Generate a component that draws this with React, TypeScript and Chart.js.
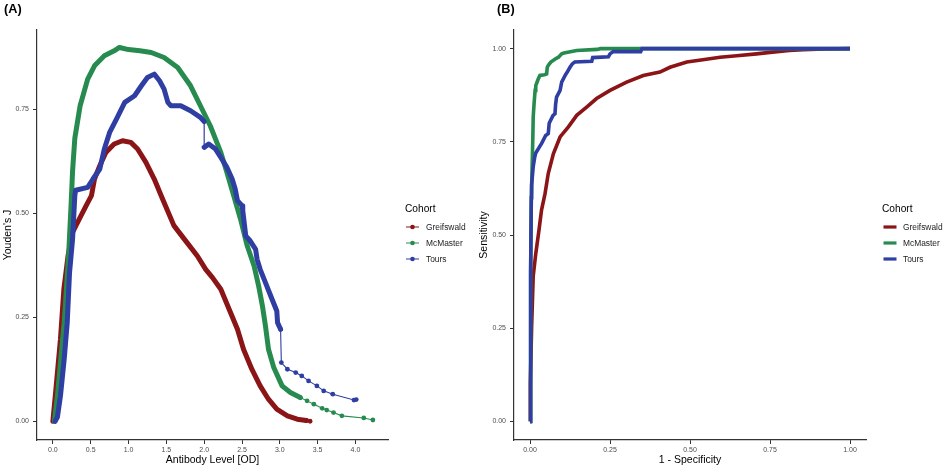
import React, { useEffect, useRef } from 'react';
import { Chart, registerables } from 'chart.js';

Chart.register(...registerables);

const FONT = '"Liberation Sans", Arial, Helvetica, sans-serif';

const cohorts = ['Greifswald', 'McMaster', 'Tours'];
const cohortColors = ['#8B1516', '#278B50', '#2E3EA3'];

// ---------- Panel A: Youden's J vs antibody level ----------
const greifswaldOD = [0, 0.04, 0.10, 0.145, 0.20, 0.26, 0.35, 0.44, 0.51, 0.55, 0.62, 0.70, 0.81, 0.92, 1.03, 1.12, 1.23, 1.34, 1.45, 1.60, 1.74, 1.91, 2.02, 2.11, 2.22, 2.33, 2.44, 2.52, 2.63, 2.74, 2.85, 2.96, 3.10, 3.23, 3.35];
const greifswaldJ = [0, 0.077, 0.197, 0.317, 0.397, 0.454, 0.486, 0.518, 0.542, 0.582, 0.614, 0.646, 0.666, 0.674, 0.670, 0.654, 0.622, 0.582, 0.534, 0.470, 0.437, 0.397, 0.365, 0.345, 0.317, 0.269, 0.221, 0.173, 0.125, 0.085, 0.053, 0.029, 0.013, 0.005, 0.002];
const greifswaldTailOD = [3.35, 3.40];
const greifswaldTailJ = [0.002, 0.0];

const mcmasterOD = [0.02, 0.06, 0.10, 0.15, 0.18, 0.21, 0.24, 0.26, 0.29, 0.36, 0.46, 0.55, 0.68, 0.81, 0.88, 1.0, 1.15, 1.30, 1.47, 1.65, 1.82, 1.95, 2.08, 2.22, 2.30, 2.39, 2.48, 2.57, 2.66, 2.72, 2.77, 2.81, 2.85, 2.92, 3.03, 3.14, 3.27];
const mcmasterJ = [0, 0.061, 0.14, 0.238, 0.32, 0.406, 0.518, 0.60, 0.68, 0.758, 0.822, 0.854, 0.878, 0.89, 0.898, 0.893, 0.89, 0.886, 0.874, 0.85, 0.806, 0.758, 0.71, 0.646, 0.598, 0.542, 0.486, 0.421, 0.373, 0.325, 0.277, 0.229, 0.173, 0.129, 0.085, 0.069, 0.057];
const mcmasterTailOD = [3.27, 3.36, 3.45, 3.56, 3.62, 3.71, 3.82, 4.11, 4.23];
const mcmasterTailJ = [0.057, 0.049, 0.041, 0.031, 0.027, 0.021, 0.013, 0.008, 0.003];

const toursOD = [0.03, 0.06, 0.10, 0.15, 0.19, 0.22, 0.26, 0.29, 0.30, 0.46, 0.53, 0.62, 0.68, 0.75, 0.84, 0.95, 1.08, 1.17, 1.25, 1.34, 1.41, 1.47, 1.52, 1.56, 1.69, 1.82, 1.95, 2.0, 2.0, 2.06, 2.15, 2.22, 2.30, 2.37, 2.41, 2.44, 2.50, 2.51, 2.55, 2.61, 2.68, 2.70, 2.74, 2.81, 2.88, 2.96, 2.97, 3.01];
const toursJ = [0, 0.01, 0.061, 0.15, 0.238, 0.357, 0.437, 0.542, 0.555, 0.562, 0.582, 0.606, 0.654, 0.694, 0.726, 0.766, 0.782, 0.806, 0.826, 0.834, 0.818, 0.798, 0.766, 0.758, 0.758, 0.746, 0.73, 0.72, 0.658, 0.666, 0.654, 0.634, 0.61, 0.582, 0.558, 0.53, 0.518, 0.506, 0.445, 0.433, 0.413, 0.389, 0.365, 0.333, 0.301, 0.265, 0.237, 0.221];
const toursTailOD = [3.01, 3.02, 3.10, 3.21, 3.29, 3.38, 3.49, 3.58, 3.70, 3.98, 4.01];
const toursTailJ = [0.221, 0.141, 0.125, 0.117, 0.109, 0.097, 0.085, 0.073, 0.065, 0.051, 0.052];

const odTicks = [0, 0.5, 1.0, 1.5, 2.0, 2.5, 3.0, 3.5, 4.0];
const youdenTicks = [0, 0.25, 0.5, 0.75];

// ---------- Panel B: ROC curves ----------
const greifswaldFPR = [0, 0.001, 0.005, 0.01, 0.018, 0.028, 0.036, 0.047, 0.057, 0.073, 0.094, 0.12, 0.146, 0.177, 0.208, 0.25, 0.302, 0.354, 0.406, 0.4375, 0.49, 0.54, 0.594, 0.646, 0.708, 0.75, 0.81, 0.854, 0.92, 1.0];
const greifswaldTPR = [0, 0.1, 0.25, 0.389, 0.45, 0.513, 0.567, 0.611, 0.665, 0.718, 0.763, 0.79, 0.821, 0.843, 0.866, 0.888, 0.91, 0.928, 0.937, 0.95, 0.964, 0.97, 0.977, 0.981, 0.986, 0.99, 0.995, 0.997, 0.999, 1.0];

const mcmasterFPR = [0, 0.002, 0.004, 0.009, 0.01, 0.013, 0.016, 0.018, 0.026, 0.031, 0.045, 0.052, 0.054, 0.057, 0.065, 0.08, 0.089, 0.099, 0.106, 0.146, 0.21, 0.22, 1.0];
const mcmasterTPR = [0, 0.40, 0.589, 0.767, 0.816, 0.856, 0.888, 0.901, 0.919, 0.928, 0.93, 0.932, 0.95, 0.955, 0.964, 0.973, 0.977, 0.986, 0.988, 0.995, 0.998, 1.0, 1.0];

const toursFPR = [0, 0.002, 0.004, 0.005, 0.01, 0.015, 0.018, 0.033, 0.036, 0.049, 0.057, 0.06, 0.072, 0.078, 0.08, 0.083, 0.094, 0.099, 0.111, 0.115, 0.125, 0.132, 0.14, 0.193, 0.196, 0.245, 0.25, 0.26, 0.346, 0.35, 1.0];
const toursTPR = [0, 0.40, 0.60, 0.634, 0.683, 0.71, 0.72, 0.741, 0.745, 0.767, 0.772, 0.80, 0.821, 0.825, 0.85, 0.87, 0.888, 0.91, 0.93, 0.935, 0.95, 0.959, 0.964, 0.966, 0.976, 0.978, 0.986, 0.992, 0.992, 1.0, 1.0];

const rateTicks = [0, 0.25, 0.5, 0.75, 1.0];

const pts = (xs: number[], ys: number[]) => xs.map((x, i) => ({ x, y: ys[i] }));

const overlayPlugin = (panelLabel: string, labelX: number, legendGap: number, keyType: 'point' | 'line') => ({
  id: 'overlay' + panelLabel,
  afterDraw(chart: any) {
    const ctx = chart.ctx as CanvasRenderingContext2D;
    const ca = chart.chartArea;
    ctx.save();
    ctx.fillStyle = '#000';
    ctx.textBaseline = 'middle';
    ctx.textAlign = 'left';
    ctx.font = `bold 12.7px ${FONT}`;
    ctx.fillText(panelLabel, labelX, 9);
    const lx = ca.right + legendGap;
    ctx.font = `10.2px ${FONT}`;
    ctx.fillText('Cohort', lx, 209);
    cohorts.forEach((name, i) => {
      const y = 227 + i * 16;
      ctx.strokeStyle = cohortColors[i];
      ctx.fillStyle = cohortColors[i];
      if (keyType === 'point') {
        ctx.lineWidth = 1;
        ctx.beginPath();
        ctx.moveTo(lx + 1, y);
        ctx.lineTo(lx + 14, y);
        ctx.stroke();
        ctx.beginPath();
        ctx.arc(lx + 7.5, y, 2.3, 0, Math.PI * 2);
        ctx.fill();
      } else {
        ctx.lineWidth = 3.2;
        ctx.beginPath();
        ctx.moveTo(lx + 1.5, y);
        ctx.lineTo(lx + 14.5, y);
        ctx.stroke();
      }
      ctx.fillStyle = '#222';
      ctx.font = `8.4px ${FONT}`;
      ctx.fillText(name, lx + 21, y + 0.5);
    });
    ctx.restore();
  },
});

const axisCommon = (
  ticksArr: number[],
  decimals: number,
  min: number,
  max: number,
  title: string,
  titlePadding: any,
  fit: (s: any) => void,
  position: 'left' | 'bottom'
) => ({
  type: 'linear' as const,
  position,
  min,
  max,
  afterBuildTicks: (scale: any) => {
    scale.ticks = ticksArr.map((v) => ({ value: v }));
  },
  afterFit: fit,
  grid: {
    display: true,
    drawOnChartArea: false,
    drawTicks: true,
    tickLength: 4,
    tickColor: '#333',
    tickWidth: 1,
    color: '#333',
  },
  border: { display: true, color: '#333', width: 1.2 },
  ticks: {
    padding: position === 'left' ? 4 : 2,
    color: '#4D4D4D',
    font: { family: FONT, size: 7 },
    maxRotation: 0,
    autoSkip: false,
    callback: (v: any) => Number(v).toFixed(decimals),
  },
  title: {
    display: true,
    text: title,
    color: '#000',
    font: { family: FONT, size: 10.5 },
    padding: titlePadding,
  },
});

export default function App() {
  const refA = useRef<HTMLCanvasElement>(null);
  const refB = useRef<HTMLCanvasElement>(null);

  useEffect(() => {
    if (!refA.current || !refB.current) return;

    const thickSeg = {
      borderWidth: (c: any) => (Math.abs(c.p0.x - c.p1.x) < 0.6 ? 1.2 : undefined),
    };

    const mainSet = (label: string, xs: number[], ys: number[], i: number, order: number) => ({
      label,
      data: pts(xs, ys),
      borderColor: cohortColors[i],
      backgroundColor: cohortColors[i],
      borderWidth: 5,
      borderCapStyle: 'round' as const,
      borderJoinStyle: 'round' as const,
      pointRadius: 0,
      tension: 0,
      order,
      segment: thickSeg,
    });
    const tailSet = (label: string, xs: number[], ys: number[], i: number, order: number) => ({
      label,
      data: pts(xs, ys),
      borderColor: cohortColors[i],
      backgroundColor: cohortColors[i],
      borderWidth: 1.1,
      pointRadius: 2.4,
      pointBorderWidth: 0,
      pointHoverRadius: 2.4,
      tension: 0,
      order,
    });

    const chartA = new Chart(refA.current, {
      type: 'line',
      data: {
        datasets: [
          mainSet('Tours', toursOD, toursJ, 2, 0),
          tailSet('Tours tail', toursTailOD, toursTailJ, 2, 1),
          mainSet('McMaster', mcmasterOD, mcmasterJ, 1, 2),
          tailSet('McMaster tail', mcmasterTailOD, mcmasterTailJ, 1, 3),
          mainSet('Greifswald', greifswaldOD, greifswaldJ, 0, 4),
          tailSet('Greifswald tail', greifswaldTailOD, greifswaldTailJ, 0, 5),
        ],
      },
      options: {
        responsive: false,
        animation: false,
        parsing: false as any,
        normalized: true,
        layout: { padding: { left: 0, top: 30, right: 84, bottom: 0 } },
        plugins: { legend: { display: false }, tooltip: { enabled: false } },
        scales: {
          x: axisCommon(odTicks, 1, -0.21, 4.43, 'Antibody Level [OD]', { top: 0, bottom: 2.7 }, (s: any) => { s.height = 29; }, 'bottom'),
          y: axisCommon(youdenTicks, 2, -0.045, 0.94, "Youden's J", { top: 1.7, bottom: 0 }, (s: any) => { s.width = 37; }, 'left'),
        },
      },
      plugins: [overlayPlugin('(A)', 4, 17, 'point')],
    } as any);

    const rocSet = (label: string, xs: number[], ys: number[], i: number, order: number) => ({
      label,
      data: pts(xs, ys),
      borderColor: cohortColors[i],
      backgroundColor: cohortColors[i],
      borderWidth: 3.6,
      borderJoinStyle: 'miter' as const,
      pointRadius: 0,
      tension: 0,
      order,
    });

    const chartB = new Chart(refB.current, {
      type: 'line',
      data: {
        datasets: [
          rocSet('Tours', toursFPR, toursTPR, 2, 0),
          rocSet('McMaster', mcmasterFPR, mcmasterTPR, 1, 1),
          rocSet('Greifswald', greifswaldFPR, greifswaldTPR, 0, 2),
        ],
      },
      options: {
        responsive: false,
        animation: false,
        parsing: false as any,
        layout: { padding: { left: 0, top: 30, right: 79, bottom: 0 } },
        plugins: { legend: { display: false }, tooltip: { enabled: false } },
        scales: {
          x: axisCommon(rateTicks, 2, -0.05, 1.05, '1 - Specificity', { top: 0, bottom: 2.7 }, (s: any) => { s.height = 29; }, 'bottom'),
          y: axisCommon(rateTicks, 2, -0.05, 1.05, 'Sensitivity', { top: 5.7, bottom: 0 }, (s: any) => { s.width = 42; }, 'left'),
        },
      },
      plugins: [overlayPlugin('(B)', 25, 16, 'line')],
    } as any);

    return () => {
      chartA.destroy();
      chartB.destroy();
    };
  }, []);

  return (
    <div style={{ position: 'fixed', left: 0, top: 0, width: 945, height: 469, background: '#fff' }}>
      <canvas ref={refA} width={472} height={469} style={{ position: 'absolute', left: 0, top: 0, width: 472, height: 469 }} />
      <canvas ref={refB} width={473} height={469} style={{ position: 'absolute', left: 472, top: 0, width: 473, height: 469 }} />
    </div>
  );
}
